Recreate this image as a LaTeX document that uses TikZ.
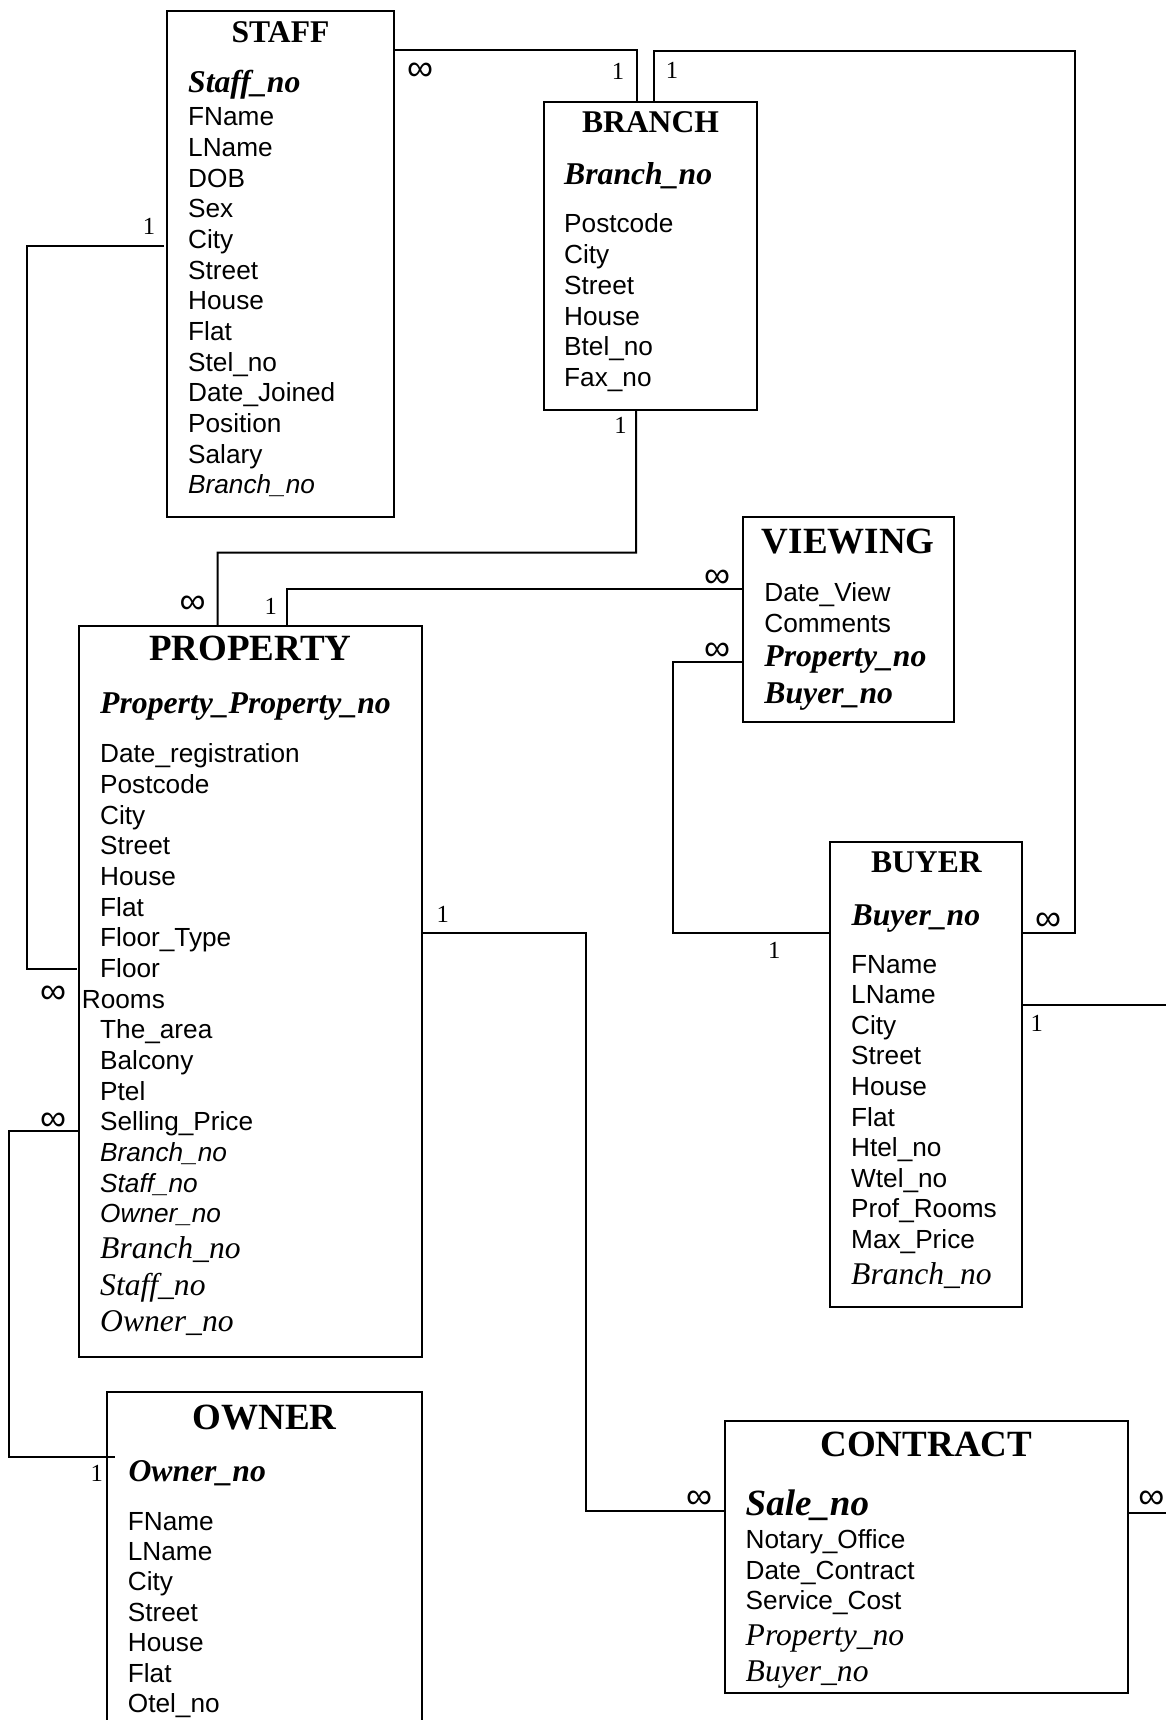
\documentclass[tikz,border=0pt]{standalone}
\usepackage{fontspec}
\usepackage{graphicx}
\setmainfont{Liberation Serif}
\setsansfont{Liberation Sans}
\usetikzlibrary{calc}
\newcommand{\infsym}{\resizebox{26pt}{!}{\sffamily ∞}}
\begin{document}
\begin{tikzpicture}[x=1pt,y=-1pt,
  ebox/.style={draw, line width=2pt, inner sep=0pt, outer sep=0pt},
  conn/.style={line width=2pt},
  ttlA/.style={anchor=base, inner sep=0pt, font=\fontsize{31.6}{36}\selectfont\bfseries},
  ttlB/.style={anchor=base, inner sep=0pt, font=\fontsize{37}{42}\selectfont\bfseries},
  keyf/.style={anchor=base west, inner sep=0pt, font=\fontsize{31.7}{36}\selectfont\bfseries\itshape},
  attr/.style={anchor=base west, inner sep=0pt, font=\sffamily\fontsize{26.2}{30}\selectfont},
  attri/.style={anchor=base west, inner sep=0pt, font=\sffamily\itshape\fontsize{26.2}{30}\selectfont},
  fki/.style={anchor=base west, inner sep=0pt, font=\fontsize{31.6}{36}\selectfont\itshape},
  one/.style={inner sep=0pt, font=\fontsize{24.6}{28}\selectfont},
  inf/.style={inner sep=0pt}]
\useasboundingbox (0,0) rectangle (1166,1720);
\clip (0,0) rectangle (1166,1720);
\fill[white] (0,0) rectangle (1166,1720);

% ---------- boxes ----------
\node[ebox, minimum width=227pt, minimum height=505.4pt] (staff) at (280.5,263.9) {};
\node[ebox, minimum width=213pt, minimum height=308pt] (branch) at (650.5,256) {};
\node[ebox, minimum width=342.7pt, minimum height=730.7pt] (property) at (250.35,991.35) {};
\node[ebox, minimum width=211.1pt, minimum height=205pt] (viewing) at (848.25,619.2) {};
\node[ebox, minimum width=192.1pt, minimum height=465.6pt] (buyer) at (926.35,1074.5) {};
\node[ebox, minimum width=314.4pt, minimum height=367.7pt] (owner) at (264.5,1576.15) {};
\node[ebox, minimum width=402.5pt, minimum height=272.3pt] (contract) at (926.25,1557.15) {};

% ---------- STAFF ----------
\node[ttlA] (staffT) at (280.5,42.3) {STAFF};
\node[keyf] (staffK) at (188,93) {Staff\_no};
\foreach \t [count=\i from 0] in {FName,LName,DOB,Sex,City,Street,House,Flat,Stel\_no,Date\_Joined,Position,Salary}
  \node[attr] (sa\i) at (188,125.8+30.66*\i) {\t};
\node[attri] (staffFK) at (188,493.7) {Branch\_no};

% ---------- BRANCH ----------
\node[ttlA] (branchT) at (650.5,132.7) {BRANCH};
\node[keyf] (branchK) at (564,185) {Branch\_no};
\foreach \t [count=\i from 0] in {Postcode,City,Street,House,Btel\_no,Fax\_no}
  \node[attr] (ba\i) at (564,233+30.7*\i) {\t};

% ---------- PROPERTY ----------
\node[ttlB] (propT) at (250.35,660.7) {PROPERTY};
\node[keyf] (propK) at (100,713) {Property\_Property\_no};
\foreach \t [count=\i from 0] in {Date\_registration,Postcode,City,Street,House,Flat,Floor\_Type,Floor}
  \node[attr] (pa\i) at (100,762.7+30.67*\i) {\t};
\node[attr] (pRooms) at (81.7,1008) {Rooms};
\foreach \t [count=\i from 9] in {The\_area,Balcony,Ptel,Selling\_Price}
  \node[attr] (pa\i) at (100,762.7+30.67*\i) {\t};
\foreach \t [count=\i from 13] in {Branch\_no,Staff\_no,Owner\_no}
  \node[attri] (pa\i) at (100,762.7+30.67*\i) {\t};
\node[fki] (pf1) at (100,1258.3) {Branch\_no};
\node[fki] (pf2) at (100,1295) {Staff\_no};
\node[fki] (pf3) at (100,1331.7) {Owner\_no};

% ---------- VIEWING ----------
\node[ttlB] (viewT) at (848.25,553.3) {VIEWING};
\node[attr] (va1) at (764.2,601.7) {Date\_View};
\node[attr] (va2) at (764.2,632.7) {Comments};
\node[keyf] (vk1) at (764.2,666.7) {Property\_no};
\node[keyf] (vk2) at (764.2,703.3) {Buyer\_no};

% ---------- BUYER ----------
\node[ttlA] (buyT) at (926.35,872.7) {BUYER};
\node[keyf] (buyK) at (851.4,925) {Buyer\_no};
\foreach \t [count=\i from 0] in {FName,LName,City,Street,House,Flat,Htel\_no,Wtel\_no,Prof\_Rooms,Max\_Price}
  \node[attr] (ya\i) at (851,973.3+30.55*\i) {\t};
\node[fki] (buyFK) at (851,1284) {Branch\_no};

% ---------- OWNER ----------
\node[ttlB] (ownT) at (264.5,1429.3) {OWNER};
\node[keyf] (ownK) at (128.3,1481) {Owner\_no};
\foreach \t [count=\i from 0] in {FName,LName,City,Street,House,Flat,Otel\_no}
  \node[attr] (oa\i) at (127.7,1530+30.45*\i) {\t};

% ---------- CONTRACT ----------
\node[ttlB] (conT) at (926.25,1456.7) {CONTRACT};
\node[anchor=base west, inner sep=0pt, font=\fontsize{37}{42}\selectfont\bfseries\itshape] (conK) at (745.5,1515) {Sale\_no};
\node[attr] (ca1) at (745.5,1548.3) {Notary\_Office};
\node[attr] (ca2) at (745.5,1579) {Date\_Contract};
\node[attr] (ca3) at (745.5,1609.3) {Service\_Cost};
\node[fki] (cf1) at (745.5,1645) {Property\_no};
\node[fki] (cf2) at (745.5,1681.7) {Buyer\_no};

% ---------- connectors ----------
\draw[conn] (staff.east |- 0,50) -| ($(branch.north west)+(93,0)$);
\draw[conn] ($(branch.north west)+(110,0)$) |- (1075,51) |- (buyer.east |- 0,933.3);
\draw[conn] ($(branch.south west)+(92,0)$) |- (217.7,552.7) -- ($(property.north west)+(138.7,0)$);
\draw[conn] ($(property.north west)+(207.7,0)$) |- (viewing.west |- 0,589);
\draw[conn] (viewing.west |- 0,662.3) -| (672.9,933.3) -- (buyer.west |- 0,933.3);
\draw[conn] ($(staff.west |- 0,246.1)+(-3,0)$) -| (26.7,969) -- ($(property.west |- 0,969)+(-2,0)$);
\draw[conn] (property.west |- 0,1131) -| (9.3,1456.7) -- ($(owner.west |- 0,1456.7)+(7.7,0)$);
\draw[conn] (property.east |- 0,933.3) -| (586,1511) -- (contract.west |- 0,1511);
\coordinate (edgeA) at (1166,1005);
\coordinate (edgeB) at (1166,1512.7);
\draw[conn] (buyer.east |- 0,1005) -- (edgeA);
\draw[conn] (contract.east |- 0,1512.7) -- (edgeB);

% ---------- cardinalities ----------
\node[one] (l1a) at (149,226.5) {1};
\node[inf] (i1a) at (53,995) {\infsym};
\node[inf] (i2a) at (420,72) {\infsym};
\node[one] (l2a) at (618,71) {1};
\node[one] (l3a) at (672,70) {1};
\node[inf] (i3a) at (1048,921.7) {\infsym};
\node[one] (l4a) at (620.6,425) {1};
\node[inf] (i4a) at (192.7,605) {\infsym};
\node[one] (l5a) at (270.7,606) {1};
\node[inf] (i5a) at (717.2,578.3) {\infsym};
\node[inf] (i6a) at (717.2,651.7) {\infsym};
\node[one] (l6a) at (774.2,950) {1};
\node[inf] (i7a) at (53,1121.7) {\infsym};
\node[one] (l7a) at (96.7,1473) {1};
\node[one] (l8a) at (442.7,914) {1};
\node[inf] (i8a) at (699.2,1499.3) {\infsym};
\node[one] (l9a) at (1036.7,1023.3) {1};
\node[inf] (i9a) at (1151.4,1499.3) {\infsym};
\end{tikzpicture}
\end{document}
